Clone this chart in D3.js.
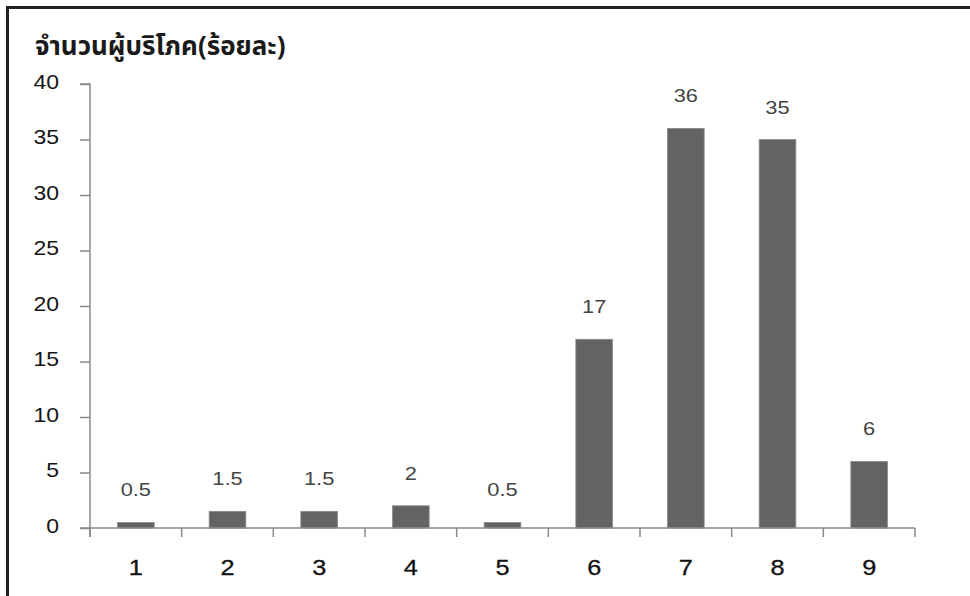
<!DOCTYPE html>
<html><head><meta charset="utf-8">
<script src="https://cdn.jsdelivr.net/npm/d3@7"></script>
<style>
html,body{margin:0;padding:0;background:#fff;}
svg{display:block;}
</style></head>
<body>
<script>
const categories = ["1","2","3","4","5","6","7","8","9"];
const values = [0.5, 1.5, 1.5, 2, 0.5, 17, 36, 35, 6];
const valueLabels = ["0.5","1.5","1.5","2","0.5","17","36","35","6"];
const yTicks = [0,5,10,15,20,25,30,35,40];
const title = "จำนวนผู้บริโภค(ร้อยละ)";

const W = 970, H = 596;
const svg = d3.select("body").append("svg").attr("width", W).attr("height", H);

// frame
svg.append("line").attr("x1",7).attr("x2",W).attr("y1",7.5).attr("y2",7.5).attr("stroke","#222").attr("stroke-width",3);
svg.append("line").attr("x1",7.5).attr("x2",7.5).attr("y1",6).attr("y2",H).attr("stroke","#222").attr("stroke-width",3);

const x = d3.scaleBand().domain(categories).range([90, 915]).paddingInner(0.6).paddingOuter(0.3);
const y = d3.scaleLinear().domain([0, 40]).range([528, 84]);

const axisColor = "#8a8a8a";
const sx = 1.15;

// y axis
const yAxis = svg.append("g").attr("transform","translate(90,0)")
  .call(d3.axisLeft(y).tickValues(yTicks).tickSize(10).tickPadding(21).tickFormat(d3.format("d")));
yAxis.select(".domain").attr("stroke", axisColor).attr("stroke-width",1.5)
  .attr("d", `M-10,${y(40)}H0V${y(0)+9}`);
yAxis.selectAll(".tick line").attr("stroke", axisColor).attr("stroke-width",1.5);
yAxis.selectAll(".tick text").attr("font-family","'Liberation Sans', Arial, sans-serif")
  .attr("font-size",20).attr("fill","#151515").attr("transform",`scale(${sx},1)`)
  .attr("x", -31/sx).attr("dy","0.2em");

// bars
svg.append("g").selectAll("rect").data(values).join("rect")
  .attr("x",(d,i)=>x(categories[i]))
  .attr("width", x.bandwidth())
  .attr("y", d=>y(d))
  .attr("height", d=>y(0)-y(d))
  .attr("fill","#636363").attr("stroke","#8c8c8c").attr("stroke-width",0.8);

// x axis
const xTickPos = d3.range(categories.length+1).map(i => 90 + i*x.step());
const xg = svg.append("g");
xg.append("line").attr("x1",80).attr("x2",915).attr("y1",y(0)).attr("y2",y(0)).attr("stroke",axisColor).attr("stroke-width",1.5);
xg.selectAll("line.t").data(xTickPos).join("line").attr("class","t")
  .attr("x1",d=>d).attr("x2",d=>d).attr("y1",y(0)).attr("y2",y(0)+9)
  .attr("stroke",axisColor).attr("stroke-width",1.5);
xg.selectAll("text").data(categories).join("text")
  .attr("transform",d=>`translate(${x(d)+x.bandwidth()/2},575) scale(${sx},1)`)
  .attr("text-anchor","middle")
  .attr("font-family","'Liberation Sans', Arial, sans-serif").attr("font-size",22).attr("fill","#111")
  .attr("stroke","#111").attr("stroke-width",0.3)
  .text(d=>d);

// value labels
svg.append("g").selectAll("text").data(values).join("text")
  .attr("transform",(d,i)=>`translate(${x(categories[i])+x.bandwidth()/2},${y(d)-26}) scale(${sx},1)`)
  .attr("text-anchor","middle")
  .attr("font-family","'Liberation Sans', Arial, sans-serif").attr("font-size",19).attr("fill","#444")
  .text((d,i)=>valueLabels[i]);

// title
svg.append("text").attr("x",35).attr("y",55)
  .attr("font-family","'Noto Sans Thai', 'Noto Sans', 'DejaVu Sans', sans-serif")
  .attr("font-size",26).attr("font-weight","bold").attr("fill","#1a1a1a")
  .text(title);
</script>
</body></html>
